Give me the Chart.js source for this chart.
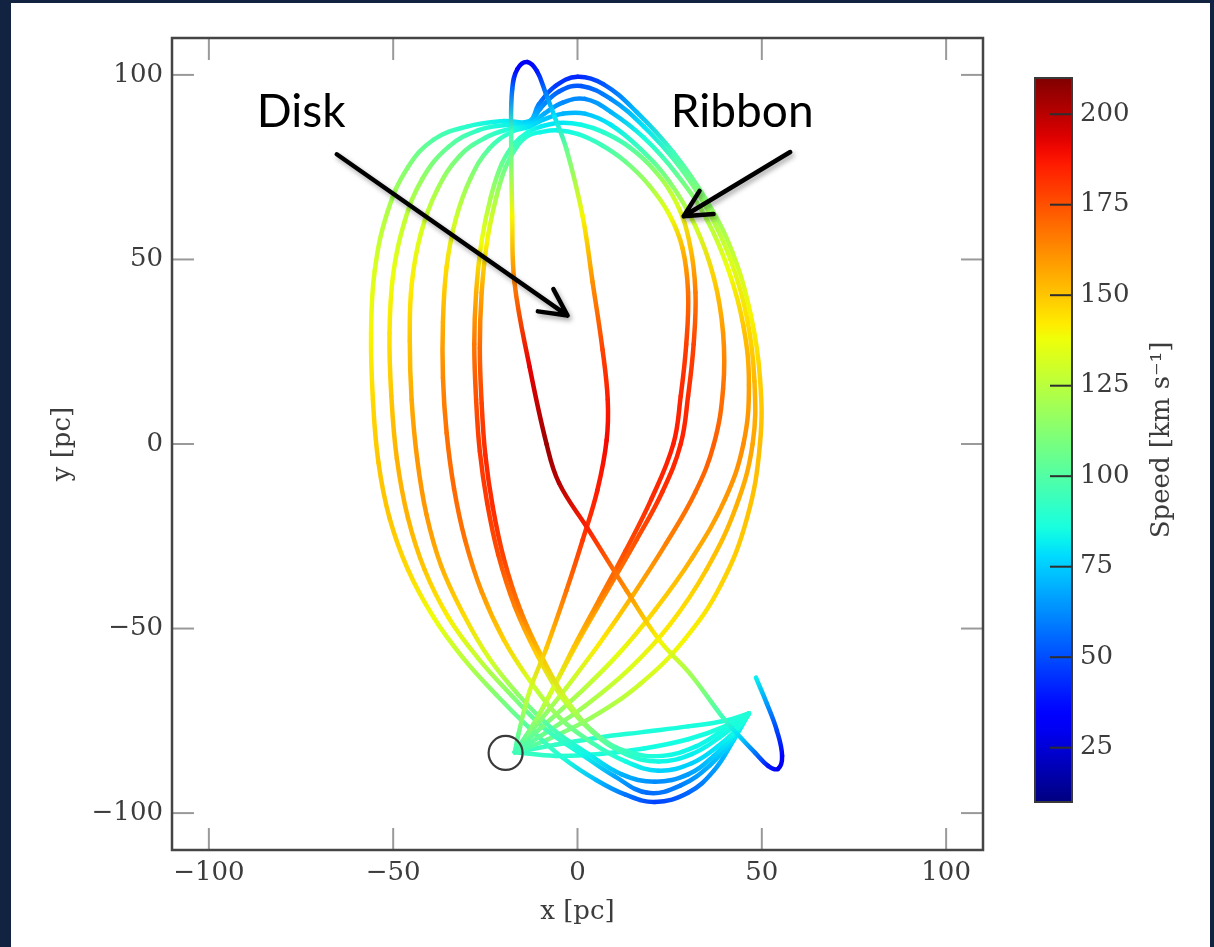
<!DOCTYPE html>
<html><head><meta charset="utf-8">
<script src="https://cdn.jsdelivr.net/npm/chart.js@4.4.1/dist/chart.umd.min.js"></script>
<style>
html,body{margin:0;padding:0;background:#112340;width:1214px;height:947px;overflow:hidden}
#panel{position:absolute;left:11px;top:3px;width:1199px;height:944px;background:#fff}
#main{position:absolute;left:0;top:0;width:1000px;height:947px}
#cbar{position:absolute;left:1000px;top:0;width:214px;height:947px}
</style></head><body>
<div id="panel"></div>
<canvas id="main" width="1000" height="947"></canvas>
<canvas id="cbar" width="214" height="947"></canvas>
<script>
// ---------------- data ----------------
const axisRange = [-110, 110];
const xTicks = [-100, -50, 0, 50, 100];
const yTicks = [-100, -50, 0, 50, 100];
const speedRange = [10, 210];
const speedTicks = [25, 50, 75, 100, 125, 150, 175, 200];
const xTitle = 'x [pc]';
const yTitle = 'y [pc]';
const cbTitle = 'Speed [km s\u207B\u00B9]';
const launchPoint = [-19.5, -83.7];
// each point: [x (pc), y (pc), speed (km/s)]
const diskOrbit = [
 [-17,-83.5,95],[-16,-78.5,105],[-13,-67,130],[-8.4,-55.2,150],[-3,-39.7,168],[1.4,-26,180],
 [5.4,-12.5,186],[7.9,1,190],[8.2,12,186],[6.8,25.5,178],[4.1,43.8,162],[1.4,61.7,140],
 [-3,79.9,105],[-6.3,88.9,80],[-8.6,95,60],[-11,101,40],[-13.6,103.5,30],[-16.3,101.6,35],
 [-17.7,96.2,55],[-18,84.5,95],[-17.7,61.7,140],[-17.1,43.8,165],[-13,20.9,192],[-8.4,0,205],
 [-5,-10.6,200],[2.7,-22.8,185],[13.3,-39.7,162],[22.3,-53.3,140],[30.5,-62.2,120],[39.5,-74.2,95],
 [43.3,-78.5,80],[48.2,-83.7,58],[51.7,-87.2,40],[54.4,-88,30],[55.5,-84.5,32],[54.1,-77.7,48],
 [51.4,-70.4,65],[48.4,-63.3,82]
];
const ribbon1 = [
 [-17,-83.5,95],[-8,-80,105],[4,-74,118],[17,-65,130],[29,-53,140],[39,-38,147],[46,-20,151],
 [49.5,0,152],[49.5,18,148],[47,35,140],[42,52,127],[35,66,113],[26,79,95],[16,90,72],
 [7,97.5,52],[0,99.5,42],[-6,97,46],[-10.5,92,60],[-13,87.5,75],[-20,87.5,82],[-30,86,90],
 [-39,82.5,100],[-46,75,112],[-51.5,63,123],[-55,47,133],[-56,30,140],[-55.5,12,146],
 [-54,-5,150],[-51,-20,150],[-46,-34,146],[-39,-47,138],[-31,-58,126],[-22,-68,112],
 [-13,-77,100],[-4,-85,88],[5,-91,72],[13,-95,58],[21,-97,48],[30,-94.5,55],[37,-88.5,65],
 [42.5,-80,78],[46.5,-73,88]
];
const ribbon2 = [
 [-17,-83.5,95],[-9,-78.5,106],[2,-71,120],[14,-61,133],[25,-49,143],[35,-34,150],[43,-17,155],
 [47.5,0,157],[48,17,153],[46,34,145],[41.5,50,133],[35,64,118],[27,76,100],[18,86,80],
 [9,93.5,62],[1,97,52],[-5,95.5,54],[-10,91,64],[-13,87,76],[-19,86.5,83],[-27,85,92],
 [-35,80.5,103],[-42,72,116],[-47,60,128],[-50,46,137],[-51,30,144],[-50.5,13,150],
 [-49,-4,154],[-46,-20,154],[-41.5,-34,150],[-35,-47,141],[-27,-58,128],[-18,-68,113],
 [-9,-77,98],[1,-84,84],[10,-90,68],[19,-94.5,56],[28,-92.5,60],[36,-87,70],[42,-80,80],
 [46.5,-73,88]
];
const ribbon3 = [
 [-17,-83.5,95],[-10,-77,108],[0,-68,122],[11,-57,136],[21,-45,147],[31,-31,155],[40,-15,160],
 [45,0,162],[46.5,16,158],[45,32,150],[41,47,138],[35,61,122],[27,73,104],[18,83,86],
 [9,90,70],[2,93.5,62],[-4,92.5,62],[-9,89.5,69],[-13,86.5,78],[-18,85.5,86],[-25,83,96],
 [-32,78,108],[-38,69,121],[-42.5,57,133],[-45,43,142],[-45.5,28,150],[-45,12,156],
 [-43.5,-4,160],[-41,-19,160],[-37,-33,155],[-31,-46,146],[-24,-58,132],[-16,-68,115],
 [-7,-77,98],[3,-84,83],[12,-89.5,70],[21,-91.5,62],[30,-89.5,66],[37,-84.5,75],
 [42.5,-78.5,83],[46.5,-73,88]
];
const ribbon4 = [
 [-17,-83.5,95],[-11,-76,110],[-3,-66,127],[6,-54,142],[15,-41,155],[24,-27,165],[32,-13,170],
 [37,0,172],[39.5,15,168],[39.5,30,160],[37,45,148],[32,59,130],[25,71,112],[17,80,95],
 [9,86.5,81],[2,89.5,72],[-4,89.5,70],[-9,88,74],[-13,86,80],[-18,84.5,88],[-24,80,100],
 [-29,72,115],[-33,61,130],[-35.5,48,145],[-36.5,33,155],[-36.5,18,163],[-35.5,3,168],
 [-33.5,-12,170],[-30.5,-26,168],[-26,-40,160],[-20,-53,148],[-13,-64,132],[-5,-74,115],
 [4,-81,98],[13,-86,85],[22,-88.5,76],[31,-86.5,76],[38,-82,80],[43,-77.5,85],[46.5,-73,88]
];
const ribbon5 = [
 [-17,-83.5,95],[-12,-76,112],[-6,-65,132],[1,-52,150],[8.5,-39,165],[16,-26,175],[23,-13,182],
 [28,0,185],[30,13,183],[31.5,27,178],[32,41,166],[30.5,54,150],[27,65,132],[21,74,114],
 [14,80.5,100],[7,84.5,90],[1,86.5,84],[-5,87,80],[-10,86,81],[-13.5,84.5,86],[-17,81.5,93],
 [-20.5,76,105],[-23.5,67,120],[-26,55,138],[-27.5,41,155],[-28,27,167],[-27.5,12,175],
 [-26.5,-2,180],[-24.5,-16,180],[-21.5,-30,176],[-17,-44,165],[-11,-57,148],[-4,-69,128],
 [4,-78,108],[13,-84,92],[22,-86,84],[31,-84,82],[38.5,-79.5,84],[46.5,-73,88]
];
const ribbon6 = [
 [-17,-83.5,95],[-12.5,-77,112],[-7,-67,132],[-1,-55,150],[6,-42,165],[13,-29,176],[20,-15,183],
 [26,0,186],[28,13,184],[29.5,27,179],[30,41,168],[28.5,53,153],[25,62,137],[19.5,70,120],
 [13,76.5,106],[6.5,81,95],[0,84,87],[-5.5,85,83],[-10,84.5,84],[-13.5,83.5,88],[-16.5,80.5,95],
 [-19.5,75,106],[-22,67,121],[-24.5,55,140],[-26,41,157],[-26.5,26,170],[-26,11,178],
 [-25,-3,183],[-23,-17,183],[-20,-31,178],[-15.5,-45,167],[-9.5,-58,150],[-2.5,-70,128],
 [5.5,-79,106],[14,-83.5,92],[23,-84.5,85],[32,-82,83],[39.5,-77.5,85],[46.5,-73,88]
];
const returnArc1 = [[-17,-83.5,95],[-6,-81.5,92],[6,-79.5,89],[18,-78,87],[30,-76.5,86],[40,-75,87],[46.5,-73,88]];
const returnArc2 = [[-17,-83.5,95],[-6,-84.5,90],[6,-84,87],[18,-82.5,85],[30,-80,85],[40,-76.5,87],[46.5,-73,88]];
// annotation positions in data units
const diskLabel = {text:'Disk', x:-87, y:86, arrowFrom:[-65.3,78.5], arrowTo:[-2.7,34.8]};
const ribbonLabel = {text:'Ribbon', x:25.3, y:86, arrowFrom:[57.7,79.1], arrowTo:[28.8,61.7]};

// ---------------- style helpers ----------------
const FONT = 'DejaVu Serif';
const TXT = '#3c3c3c';
function jet(v) {
  const t = Math.min(1, Math.max(0, (v - speedRange[0]) / (speedRange[1] - speedRange[0])));
  const ip = (pts) => { for (let i = 1; i < pts.length; i++) { if (t <= pts[i][0]) { const [x0,y0] = pts[i-1], [x1,y1] = pts[i]; return y0 + (y1-y0)*(t-x0)/(x1-x0); } } return pts[pts.length-1][1]; };
  const r = ip([[0,0],[0.35,0],[0.66,1],[0.89,1],[1,0.5]]);
  const g = ip([[0,0],[0.125,0],[0.375,1],[0.64,1],[0.91,0],[1,0]]);
  const b = ip([[0,0.5],[0.11,1],[0.34,1],[0.65,0],[1,0]]);
  return `rgb(${Math.round(r*255)},${Math.round(g*255)},${Math.round(b*255)})`;
}
const fmt = v => String(v).replace('-', '\u2212');
function segColor(pts) {
  return (sc) => {
    const g = sc.chart.ctx.createLinearGradient(sc.p0.x, sc.p0.y, sc.p1.x, sc.p1.y);
    g.addColorStop(0, jet(pts[sc.p0DataIndex][2]));
    g.addColorStop(1, jet(pts[sc.p1DataIndex][2]));
    return g;
  };
}
function curveDataset(label, pts) {
  return {
    label, data: pts.map(p => ({x: p[0], y: p[1]})),
    showLine: true, pointRadius: 0, pointHoverRadius: 0, borderWidth: 4.5, tension: 0.4,
    borderCapStyle: 'round', borderJoinStyle: 'round', borderColor: jet(pts[0][2]),
    segment: {borderColor: segColor(pts)}
  };
}

const datasets = [
  {label: 'start', data: [{x: launchPoint[0], y: launchPoint[1]}], showLine: false,
   pointRadius: 17, pointHoverRadius: 17, pointStyle: 'circle', pointBorderColor: '#3a3a3a',
   pointBorderWidth: 2.2, pointBackgroundColor: 'rgba(0,0,0,0)'},
  curveDataset('disk', diskOrbit),
  curveDataset('ribbon6', ribbon6), curveDataset('ribbon5', ribbon5), curveDataset('ribbon4', ribbon4),
  curveDataset('ribbon3', ribbon3), curveDataset('ribbon2', ribbon2), curveDataset('ribbon1', ribbon1),
  curveDataset('return1', returnArc1), curveDataset('return2', returnArc2)
];

const tickFont = {family: FONT, size: 26};
function axis(ticks, pos) {
  return {
    type: 'linear', position: pos, min: axisRange[0], max: axisRange[1],
    afterBuildTicks: s => { s.ticks = ticks.map(v => ({value: v})); },
    afterFit: s => {
      if (pos === 'bottom') s.height = 97; else s.width = 172;
      s.paddingLeft = 0; s.paddingRight = 0; s.paddingTop = 0; s.paddingBottom = 0;
    },
    grid: {display: false, drawTicks: false}, border: {display: false},
    ticks: {font: tickFont, color: TXT, padding: pos === 'bottom' ? 8 : 9, maxRotation: 0, autoSkip: false, callback: v => fmt(v)}
  };
}

function line(ctx, x0, y0, x1, y1) { ctx.beginPath(); ctx.moveTo(x0, y0); ctx.lineTo(x1, y1); ctx.stroke(); }

const framePlugin = {
  id: 'frame',
  afterDatasetsDraw(chart) {
    const {ctx, chartArea: a, scales: {x, y}} = chart;
    ctx.save();
    ctx.strokeStyle = '#9a9a9a'; ctx.lineWidth = 2;
    x.ticks.forEach(t => { const p = x.getPixelForValue(t.value); line(ctx, p, a.bottom, p, a.bottom - 22); line(ctx, p, a.top, p, a.top + 22); });
    y.ticks.forEach(t => { const p = y.getPixelForValue(t.value); line(ctx, a.left, p, a.left + 22, p); line(ctx, a.right, p, a.right - 22, p); });
    ctx.strokeStyle = '#454545'; ctx.lineWidth = 2.5;
    ctx.strokeRect(a.left, a.top, a.right - a.left, a.bottom - a.top);
    // axis titles
    ctx.fillStyle = TXT; ctx.font = `26px "${FONT}"`; ctx.textAlign = 'center'; ctx.textBaseline = 'middle';
    ctx.fillText(xTitle, (a.left + a.right) / 2, a.bottom + 62);
    ctx.save(); ctx.translate(63, (a.top + a.bottom) / 2); ctx.rotate(-Math.PI / 2); ctx.fillText(yTitle, 0, 0); ctx.restore();
    // annotations
    const drawArrow = (lab) => {
      const x0 = x.getPixelForValue(lab.arrowFrom[0]), y0 = y.getPixelForValue(lab.arrowFrom[1]);
      const x1 = x.getPixelForValue(lab.arrowTo[0]), y1 = y.getPixelForValue(lab.arrowTo[1]);
      const ang = Math.atan2(y0 - y1, x0 - x1), L = 30, h = 0.47;
      ctx.save();
      ctx.shadowColor = 'rgba(0,0,0,0.35)'; ctx.shadowBlur = 5; ctx.shadowOffsetX = 2; ctx.shadowOffsetY = 3;
      ctx.strokeStyle = '#000'; ctx.lineWidth = 4.5; ctx.lineCap = 'round'; ctx.lineJoin = 'round';
      ctx.beginPath(); ctx.moveTo(x0, y0); ctx.lineTo(x1, y1);
      ctx.moveTo(x1 + L * Math.cos(ang + h), y1 + L * Math.sin(ang + h)); ctx.lineTo(x1, y1);
      ctx.lineTo(x1 + L * Math.cos(ang - h), y1 + L * Math.sin(ang - h));
      ctx.stroke(); ctx.restore();
      ctx.save(); ctx.fillStyle = '#000'; ctx.font = '46px Lato'; ctx.textAlign = 'left'; ctx.textBaseline = 'alphabetic';
      ctx.fillText(lab.text, x.getPixelForValue(lab.x), y.getPixelForValue(lab.y)); ctx.restore();
    };
    drawArrow(diskLabel); drawArrow(ribbonLabel);
    ctx.restore();
  }
};

new Chart(document.getElementById('main'), {
  type: 'scatter',
  data: {datasets},
  options: {
    responsive: false, animation: false, events: [], devicePixelRatio: 1,
    layout: {autoPadding: false, padding: {left: 0, top: 38, right: 17, bottom: 0}},
    plugins: {legend: {display: false}, tooltip: {enabled: false}},
    scales: {x: axis(xTicks, 'bottom'), y: axis(yTicks, 'left')}
  },
  plugins: [framePlugin]
});

// ---------------- colour bar ----------------
const cbPlugin = {
  id: 'cbdeco',
  afterDatasetsDraw(chart) {
    const {ctx, chartArea: a, scales: {y}} = chart;
    ctx.save();
    ctx.strokeStyle = '#2e2e2e'; ctx.lineWidth = 2;
    y.ticks.forEach(t => { const p = y.getPixelForValue(t.value); line(ctx, a.right - 22, p, a.right, p); });
    ctx.strokeStyle = '#3a3a3a'; ctx.lineWidth = 2;
    ctx.strokeRect(a.left, a.top, a.right - a.left, a.bottom - a.top);
    ctx.fillStyle = TXT; ctx.font = `26px "${FONT}"`; ctx.textAlign = 'center'; ctx.textBaseline = 'middle';
    ctx.translate(162, (a.top + a.bottom) / 2); ctx.rotate(-Math.PI / 2); ctx.fillText(cbTitle, 0, 0);
    ctx.restore();
  }
};
function cbGradient(c) {
  const chart = c.chart; if (!chart.chartArea) return '#888';
  const ys = chart.scales.y;
  const y0 = ys.getPixelForValue(speedRange[0]), y1 = ys.getPixelForValue(speedRange[1]);
  const g = chart.ctx.createLinearGradient(0, y0, 0, y1);
  for (let i = 0; i <= 50; i++) { const t = i / 50; g.addColorStop(t, jet(speedRange[0] + t * (speedRange[1] - speedRange[0]))); }
  return g;
}
new Chart(document.getElementById('cbar'), {
  type: 'bar',
  data: {labels: [''], datasets: [{data: [[speedRange[0], speedRange[1]]], backgroundColor: cbGradient,
    borderWidth: 0, barPercentage: 1, categoryPercentage: 1}]},
  options: {
    responsive: false, animation: false, events: [], devicePixelRatio: 1,
    layout: {autoPadding: false, padding: {left: 35, top: 78, right: 0, bottom: 145}},
    plugins: {legend: {display: false}, tooltip: {enabled: false}},
    scales: {
      x: {display: false},
      y: {position: 'right', min: speedRange[0], max: speedRange[1],
          afterBuildTicks: s => { s.ticks = speedTicks.map(v => ({value: v})); },
          afterFit: s => { s.width = 142; s.paddingTop = 0; s.paddingBottom = 0; },
          grid: {display: false, drawTicks: false}, border: {display: false},
          ticks: {font: tickFont, color: TXT, padding: 8, autoSkip: false}}
    }
  },
  plugins: [cbPlugin]
});
</script>
</body></html>
